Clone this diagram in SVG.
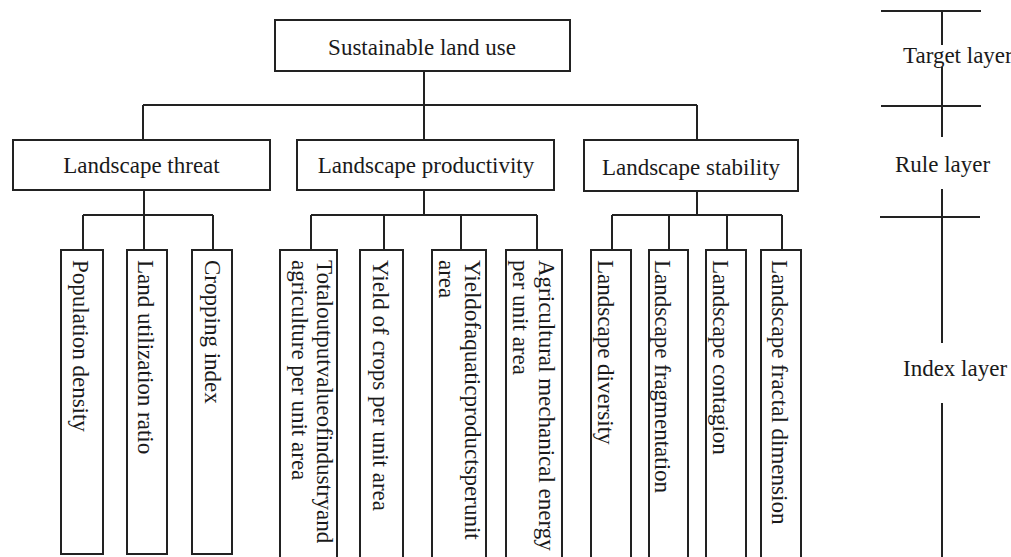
<svg xmlns="http://www.w3.org/2000/svg" width="1011" height="557" viewBox="0 0 1011 557">
<style>
  .box { fill: #fff; stroke: #222; stroke-width: 2; }
  .ln { fill: none; stroke: #222; stroke-width: 2; }
  text { font-family: "Liberation Serif", "Times New Roman", serif; font-size: 23px; fill: #1a1a1a; }
  .c { text-anchor: middle; }
</style>
<rect width="1011" height="557" fill="#fff"/>
<g id="connectors">
  <path class="ln" d="M424 71 V140 M143 105 H697 M143 105 V140 M697 105 V140"/>
  <path class="ln" d="M144 190 V215 M83 215 H213 M83 215 V250 M144 215 V250 M213 215 V250"/>
  <path class="ln" d="M424 190 V215 M311 215 H537 M311 215 V250 M384 215 V250 M461 215 V250 M537 215 V250"/>
  <path class="ln" d="M697 191 V215 M612 215 H782 M612 215 V250 M669 215 V250 M727 215 V250 M782 215 V250"/>
</g>
<g id="scale">
  <path class="ln" d="M881 11 H981 M942 11 V45 M942 67 V137 M881 106 H981 M942 189 V343 M880 217 H980 M942 403 V557"/>
  <text x="903" y="63">Target layer</text>
  <text x="895" y="172">Rule layer</text>
  <text x="903" y="376">Index layer</text>
</g>
<g id="n-top"><rect class="box" x="275" y="20" width="295" height="51"/><text class="c" x="422" y="55">Sustainable land use</text></g>
<g id="n-threat"><rect class="box" x="13" y="140" width="257" height="50"/><text class="c" x="141.5" y="173">Landscape threat</text></g>
<g id="n-productivity"><rect class="box" x="297" y="140" width="257" height="50"/><text class="c" x="426" y="173">Landscape productivity</text></g>
<g id="n-stability"><rect class="box" x="584" y="140" width="214" height="51"/><text class="c" x="691" y="175">Landscape stability</text></g>

<g id="i1"><rect class="box" x="61" y="250" width="42" height="304"/><text transform="translate(73 260) rotate(90)">Population density</text></g>
<g id="i2"><rect class="box" x="127" y="250" width="40" height="304"/><text transform="translate(138 260) rotate(90)">Land utilization ratio</text></g>
<g id="i3"><rect class="box" x="192" y="250" width="40" height="304"/><text transform="translate(205 260) rotate(90)">Cropping index</text></g>
<g id="i4"><rect class="box" x="280" y="250" width="57" height="312"/><text transform="translate(317 260) rotate(90)">Totaloutputvalueofindustryand</text><text transform="translate(292 260) rotate(90)">agriculture per unit area</text></g>
<g id="i5"><rect class="box" x="360" y="250" width="43" height="312"/><text transform="translate(373 260) rotate(90)">Yield of crops per unit area</text></g>
<g id="i6"><rect class="box" x="432" y="250" width="54" height="312"/><text transform="translate(465 260) rotate(90)">Yieldofaquaticproductsperunit</text><text transform="translate(439 260) rotate(90)">area</text></g>
<g id="i7"><rect class="box" x="506" y="250" width="56" height="312"/><text transform="translate(539 260) rotate(90)">Agricultural mechanical energy</text><text transform="translate(513 260) rotate(90)">per unit area</text></g>
<g id="i8"><rect class="box" x="591" y="250" width="40" height="312"/><text transform="translate(598 260) rotate(90)">Landscape diversity</text></g>
<g id="i9"><rect class="box" x="649" y="250" width="39" height="312"/><text transform="translate(655 260) rotate(90)">Landscape fragmentation</text></g>
<g id="i10"><rect class="box" x="706" y="250" width="40" height="312"/><text transform="translate(713 260) rotate(90)">Landscape contagion</text></g>
<g id="i11"><rect class="box" x="761" y="250" width="40" height="312"/><text transform="translate(772 260) rotate(90)">Landscape fractal dimension</text></g>
</svg>
